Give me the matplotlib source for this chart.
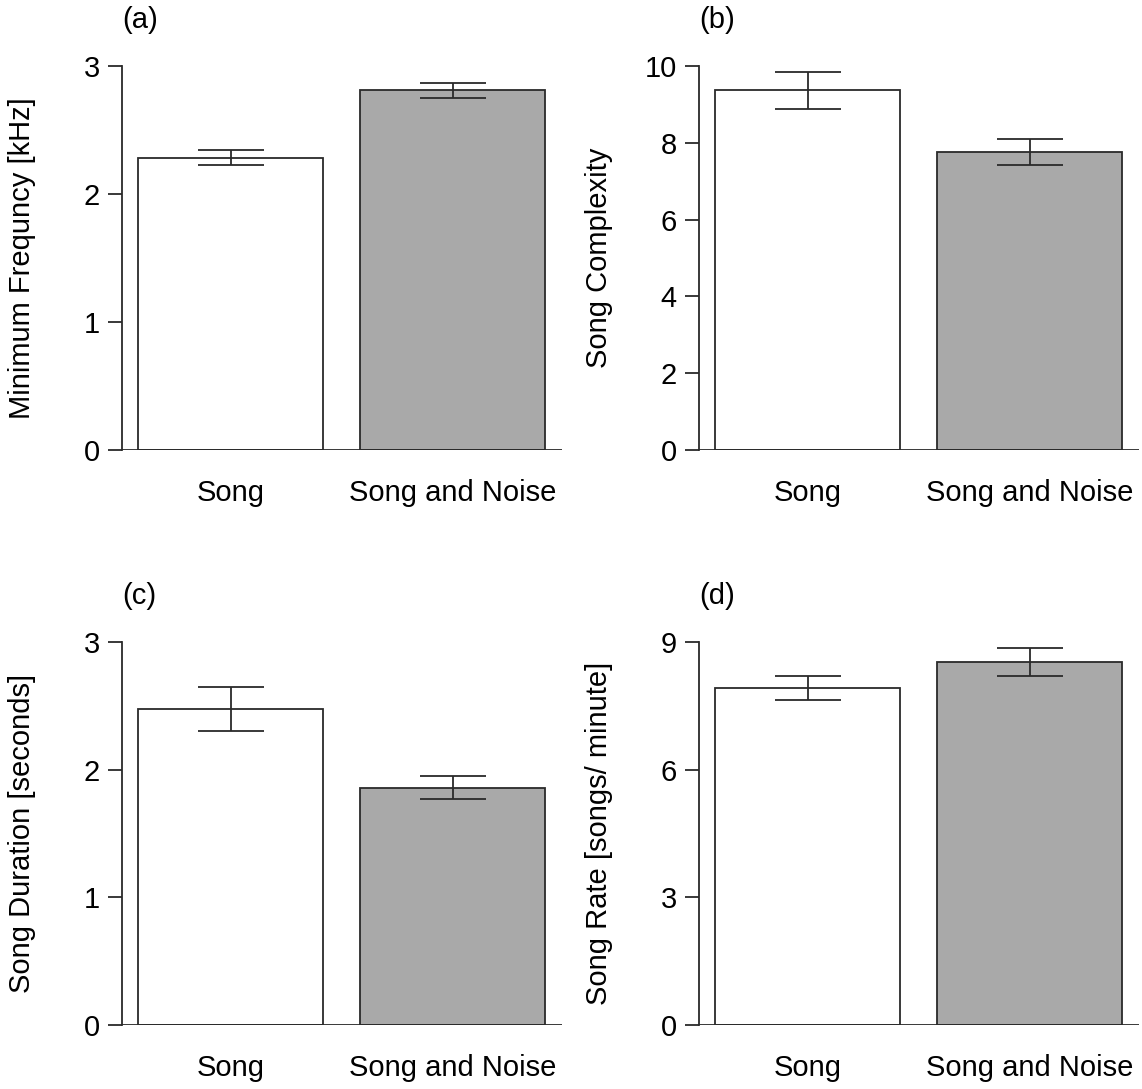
import matplotlib.pyplot as plt

plt.rcParams['font.family'] = ['Liberation Sans', 'DejaVu Sans']

groups = ["Song", "Song and Noise"]
bar_colors = ["white", "#a9a9a9"]

panels = ["(a)", "(b)", "(c)", "(d)"]
ylabels = ["Minimum Frequncy [kHz]", "Song Complexity",
           "Song Duration [seconds]", "Song Rate [songs/ minute]"]
means = [[2.28, 2.81], [9.37, 7.76], [2.475, 1.856], [7.92, 8.53]]
err_lo = [[2.23, 2.75], [8.88, 7.42], [2.30, 1.77], [7.64, 8.20]]
err_hi = [[2.34, 2.87], [9.84, 8.10], [2.65, 1.95], [8.20, 8.86]]
yticks = [[0, 1, 2, 3], [0, 2, 4, 6, 8, 10], [0, 1, 2, 3], [0, 3, 6, 9]]

line_col = "#2a2a2a"
fs = 21


def draw_panel(ax, i):
    x = [0.7, 1.9]
    ax.bar(x, means[i], width=1.0, color=bar_colors, edgecolor=line_col,
           linewidth=1.3, zorder=2)
    lo = [m - l for m, l in zip(means[i], err_lo[i])]
    hi = [h - m for m, h in zip(means[i], err_hi[i])]
    ax.errorbar(x, means[i], yerr=[lo, hi], fmt="none", ecolor=line_col,
                elinewidth=1.3, capsize=24, capthick=1.3, zorder=3)
    ax.axhline(0, color=line_col, linewidth=1.3, zorder=4)
    ax.set_xlim(0.112, 2.488)
    ax.set_ylim(0, yticks[i][-1])
    ax.set_yticks(yticks[i])
    ax.set_xticks(x)
    ax.set_xticklabels(groups)
    for s in ["top", "right", "bottom"]:
        ax.spines[s].set_visible(False)
    ax.spines["left"].set_color(line_col)
    ax.spines["left"].set_linewidth(1.3)
    ax.spines["left"].set_bounds(0, yticks[i][-1])
    ax.tick_params(axis="y", length=10, width=1.3, color=line_col,
                   labelsize=fs, pad=6)
    ax.tick_params(axis="x", length=0, labelsize=fs, pad=21)
    ax.set_ylabel(ylabels[i], fontsize=fs)
    ax.yaxis.set_label_coords(-0.195, 0.5)
    ax.text(0.0, 1.12, panels[i], transform=ax.transAxes, fontsize=fs,
            ha="left", va="center", clip_on=False)


fig = plt.figure(figsize=(11.42, 10.89), dpi=100)
W, H = 1142, 1089
ax_w = 439.6 / W
positions = [(122, 66, 450), (699, 66, 450), (122, 642, 1025), (699, 642, 1025)]
for i, (left, top, bottom) in enumerate(positions):
    ax = fig.add_axes([left / W, 1 - bottom / H, ax_w, (bottom - top) / H])
    draw_panel(ax, i)

fig.savefig("out.png", dpi=100, facecolor="white")
